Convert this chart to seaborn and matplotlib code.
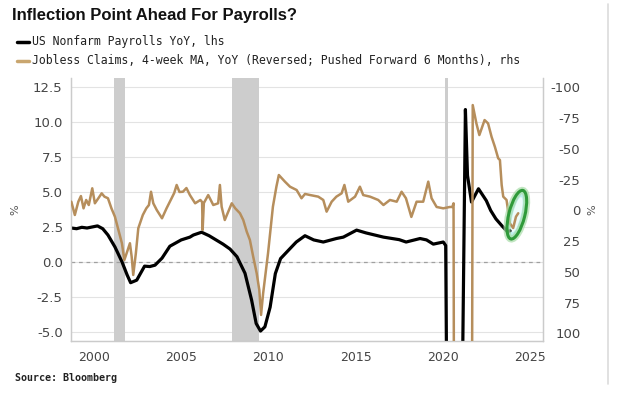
import matplotlib
matplotlib.use("Agg")
import matplotlib.pyplot as plt
import numpy as np
import seaborn as sns
from matplotlib.lines import Line2D
from matplotlib.patches import Ellipse
from matplotlib.ticker import FormatStrFormatter
from matplotlib.transforms import ScaledTranslation

# --- data (decimal years) ---
# US nonfarm payrolls YoY, % (left axis)
pay_year = [1998.7, 1999.0, 1999.3, 1999.6, 2000.0, 2000.2, 2000.5, 2000.8, 2001.2,
            2001.6, 2001.9, 2002.1, 2002.45, 2002.9, 2003.2, 2003.5, 2003.9, 2004.35,
            2005.0, 2005.5, 2005.7, 2006.17, 2006.6, 2007.0, 2007.4, 2007.8, 2008.2,
            2008.66, 2009.04, 2009.3, 2009.55, 2009.8, 2010.1, 2010.4, 2010.7, 2011.24,
            2011.6, 2012.1, 2012.6, 2013.15, 2013.9, 2014.3, 2015.06, 2015.6, 2016.6,
            2017.5, 2017.9, 2018.7, 2019.07, 2019.46, 2020.03, 2020.17, 2020.25, 2020.5,
            2020.9, 2021.15, 2021.3, 2021.42, 2021.65, 2022.05, 2022.5, 2022.75, 2023.05,
            2023.4, 2023.7, 2023.86]
pay_yoy = [2.45, 2.4, 2.5, 2.45, 2.55, 2.6, 2.4, 1.95, 1.1,
           0.05, -0.9, -1.45, -1.27, -0.27, -0.3, -0.2, 0.3, 1.15,
           1.6, 1.8, 1.95, 2.15, 1.9, 1.6, 1.3, 0.95, 0.4,
           -0.78, -2.7, -4.36, -4.9, -4.6, -3.2, -0.8, 0.27, 0.98,
           1.45, 1.9, 1.6, 1.45, 1.7, 1.8, 2.3, 2.1, 1.8,
           1.62, 1.45, 1.7, 1.6, 1.3, 1.45, 1.2, -13.0, -9.0,
           -6.5, -6.0, 10.9, 6.2, 4.3, 5.25, 4.4, 3.7, 3.1,
           2.6, 2.2, 2.25]

# Jobless claims 4wk MA YoY, % (right axis, reversed, pushed forward 6 months)
claims_year = [1998.7, 1998.9, 1999.1, 1999.25, 1999.4, 1999.55, 1999.7, 1999.9, 2000.05,
               2000.25, 2000.44, 2000.6, 2000.8, 2001.0, 2001.2, 2001.4, 2001.6, 2001.74,
               2001.9, 2002.06, 2002.16, 2002.25, 2002.4, 2002.54, 2002.8, 2003.0, 2003.15,
               2003.27, 2003.4, 2003.6, 2003.9, 2004.16, 2004.45, 2004.6, 2004.74, 2004.9,
               2005.1, 2005.3, 2005.5, 2005.8, 2006.1, 2006.2, 2006.23, 2006.3, 2006.55,
               2006.84, 2007.12, 2007.22, 2007.32, 2007.5, 2007.7, 2007.9, 2008.1, 2008.37,
               2008.56, 2008.76, 2008.94, 2009.13, 2009.33, 2009.48, 2009.58, 2009.7, 2009.98,
               2010.26, 2010.46, 2010.6, 2010.95, 2011.24, 2011.62, 2011.9, 2012.1, 2012.4,
               2012.86, 2013.15, 2013.34, 2013.63, 2013.9, 2014.2, 2014.36, 2014.58, 2014.97,
               2015.25, 2015.44, 2015.83, 2016.3, 2016.6, 2016.97, 2017.36, 2017.64, 2017.89,
               2018.2, 2018.5, 2018.88, 2019.17, 2019.36, 2019.65, 2020.03, 2020.4, 2020.55,
               2020.62, 2020.75, 2021.55, 2021.72, 2021.93, 2022.1, 2022.4, 2022.6, 2022.8,
               2022.99, 2023.18, 2023.28, 2023.38, 2023.47, 2023.66, 2023.85, 2024.04, 2024.2,
               2024.33]
claims_yoy = [-7.0, 3.8, -7.0, -11.6, -1.6, -8.4, -4.3, -17.9, -5.7,
              -9.8, -13.8, -11.1, -9.8, -1.6, 5.2, 16.0, 26.8, 40.4,
              33.7, 26.8, 37.7, 52.6, 35.0, 14.6, 3.8, -1.6, -4.3,
              -15.1, -5.7, -0.2, 6.5, -1.6, -9.8, -14.1, -20.6, -14.9,
              -15.1, -18.1, -12.4, -5.7, -8.4, -6.7, 16.0, -5.9, -12.4,
              -4.3, -5.7, -20.6, -2.9, 7.9, 1.1, -5.7, -1.6, 2.4,
              7.9, 17.4, 24.1, 37.7, 51.2, 64.8, 85.1, 67.5, 35.0,
              -2.9, -19.2, -28.7, -23.3, -19.2, -16.5, -9.8, -13.3, -12.4,
              -11.1, -8.4, 1.1, -7.0, -11.1, -13.8, -20.6, -7.0, -11.1,
              -19.2, -12.4, -11.1, -8.4, -4.3, -8.4, -7.0, -15.1, -9.8,
              5.4, -7.0, -7.0, -23.3, -9.8, -2.7, -1.6, -2.7, -2.7,
              -5.7, 900.0, 900.0, -85.6, -70.7, -61.2, -73.4, -70.7, -59.8,
              -51.7, -42.3, -40.9, -20.6, -11.1, -8.4, 10.6, 14.4, 5.2,
              2.4]

recessions = [(2001.17, 2001.8), (2007.9, 2009.45), (2020.15, 2020.28)]
left_ticks = [-5.0, -2.5, 0.0, 2.5, 5.0, 7.5, 10.0, 12.5]
right_ticks = [-100, -75, -50, -25, 0, 25, 50, 75, 100]
year_ticks = [2000, 2005, 2010, 2015, 2020, 2025]

sns.set_style("white")
plt.rcParams["font.family"] = ["DejaVu Sans"]
plt.rcParams["axes.unicode_minus"] = False

fig = plt.figure(figsize=(6.2, 3.96), dpi=100)
ax = fig.add_axes([0.1145, 0.1389, 0.7613, 0.6641])
ax2 = ax.twinx()

for start, end in recessions:
    ax.axvspan(start, end, color="#cdcdcd", lw=0, zorder=1)

ax.grid(axis="y", color="#e3e3e3", lw=0.8)
ax.grid(axis="x", visible=False)
ax.set_axisbelow(True)
ax.axhline(0, color="#a0a0a0", ls=(0, (3, 3)), lw=0.9, zorder=2)

sns.lineplot(x=pay_year, y=pay_yoy, ax=ax, color="black", lw=2.3, zorder=3)
sns.lineplot(x=claims_year, y=claims_yoy, ax=ax2, color="#b68e5c", lw=1.8, zorder=3)

ax.set_xlim(1998.68, 2025.75)
ax.set_ylim(-5.61, 13.15)
ax2.set_ylim(106.3, -107.6)

ax.set_xticks(year_ticks)
ax.set_yticks(left_ticks)
ax.yaxis.set_major_formatter(FormatStrFormatter("%.1f"))
ax2.set_yticks(right_ticks)

tick_col = "#454545"
ax.tick_params(axis="y", length=0, pad=6, labelsize=9.5, labelcolor=tick_col)
ax.tick_params(axis="x", length=3, color="#c8c8c8", pad=4, labelsize=9, labelcolor=tick_col)
ax2.tick_params(axis="y", length=0, pad=27, labelsize=9.5, labelcolor=tick_col)
plt.setp(ax2.get_yticklabels(), ha="right")

for a in (ax, ax2):
    a.spines["top"].set_visible(False)
    for s in ("left", "right", "bottom"):
        a.spines[s].set_color("#cbcbcb")
        a.spines[s].set_linewidth(0.9)

ax.set_xlabel("")
ax.set_ylabel("%", fontsize=8, color="#555555")
ax.yaxis.set_label_coords(-0.108, 0.5)
ax2.set_ylabel("%", fontsize=8, color="#555555")
ax2.yaxis.set_label_coords(1.095, 0.5)

# green highlight ellipse around the latest readings (sized in inches)
trans = fig.dpi_scale_trans + ScaledTranslation(2024.25, 3.4, ax.transData)
ax.add_patch(Ellipse((0, 0), 0.50, 0.16, angle=76, transform=trans,
                     facecolor="#bfeeee", edgecolor="none", zorder=2.5))
ax.add_patch(Ellipse((0, 0), 0.36, 0.08, angle=76, transform=trans,
                     facecolor="#eefbfa", edgecolor="none", zorder=2.6))
ax2.add_patch(Ellipse((0, 0), 0.50, 0.16, angle=76, transform=trans,
                      facecolor="none", edgecolor="#a8dca8", lw=5, alpha=0.7, zorder=5))
ax2.add_patch(Ellipse((0, 0), 0.50, 0.16, angle=76, transform=trans,
                      facecolor="none", edgecolor="#2f9a3a", lw=2.2, zorder=6))

# header, legend and source
fig.text(0.019, 0.962, "Inflection Point Ahead For Payrolls?", fontsize=12,
         fontweight="bold", family="Liberation Sans", va="center", color="#111111")
fig.add_artist(Line2D([17 / 620, 29 / 620], [1 - 42 / 396] * 2, color="black", lw=2.5))
fig.text(32 / 620, 1 - 42 / 396, "US Nonfarm Payrolls YoY, lhs", fontsize=8.3,
         family="DejaVu Sans Mono", va="center", color="#222222")
fig.add_artist(Line2D([17 / 620, 29 / 620], [1 - 61 / 396] * 2, color="#c9a66f", lw=2.5))
fig.text(32 / 620, 1 - 61 / 396,
         "Jobless Claims, 4-week MA, YoY (Reversed; Pushed Forward 6 Months), rhs",
         fontsize=8.3, family="DejaVu Sans Mono", va="center", color="#222222")
fig.text(15 / 620, 1 - 378 / 396, "Source: Bloomberg", fontsize=7.2, fontweight="bold",
         family="DejaVu Sans Mono", va="center", color="#222222")

fig.add_artist(Line2D([608 / 620] * 2, [0.03, 0.99], color="#dcdcdc", lw=1.2))

fig.savefig("out.png", dpi=100)
plt.close(fig)
